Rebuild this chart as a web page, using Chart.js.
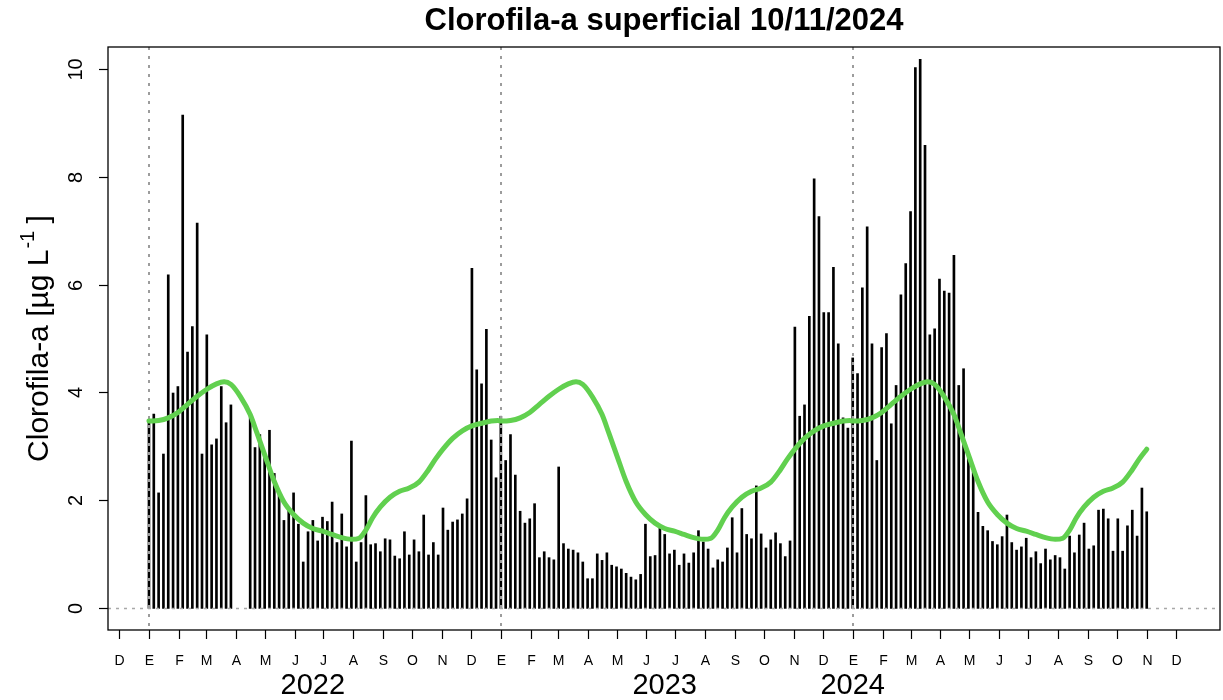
<!DOCTYPE html>
<html>
<head>
<meta charset="utf-8">
<script src="https://cdn.jsdelivr.net/npm/chart.js@4.4.1/dist/chart.umd.min.js"></script>
<style>
  html, body { margin: 0; padding: 0; background: #fff; }
  #wrap { width: 1223px; height: 700px; }
</style>
</head>
<body>
<div id="wrap"><canvas id="c" width="1223" height="700"></canvas></div>
<script>
// Surface chlorophyll-a (µg/L), one value every 5 days from 1 January of each year; null = no data
const chl2022 = [3.49, 3.60, 2.14, 2.86, 6.18, 3.99, 4.11, 9.14, 4.75, 5.22, 7.14, 2.86, 5.07, 3.03, 3.14, 4.11, 3.44, 3.77,
  null, null, null, 3.56, 2.98, 3.22, 2.81, 3.30, 2.50, 2.16, 1.63, 1.82, 2.14, 1.56, 0.86, 1.42, 1.63, 1.25, 1.69, 1.61,
  1.97, 1.22, 1.75, 1.14, 3.10, 0.86, 1.22, 2.09, 1.18, 1.20, 1.05, 1.29, 1.27, 0.97, 0.92, 1.42, 0.99, 1.27, 1.05, 1.73,
  0.99, 1.22, 0.99, 1.86, 1.45, 1.60, 1.64, 1.75, 2.03, 6.30, 4.42, 4.16, 5.17, 3.12, 2.42];
const chl2023 = [3.56, 2.74, 3.22, 2.47, 1.80, 1.58, 1.66, 1.94, 0.94, 1.05, 0.94, 0.90, 2.62, 1.20, 1.10, 1.08, 1.03, 0.86,
  0.55, 0.55, 1.01, 0.89, 1.03, 0.80, 0.77, 0.73, 0.65, 0.58, 0.53, 0.63, 1.56, 0.96, 0.98, 1.51, 1.37, 1.01, 1.08, 0.80,
  1.01, 0.84, 1.03, 1.44, 1.23, 1.10, 0.75, 0.90, 0.86, 1.12, 1.68, 1.03, 1.85, 1.37, 1.29, 2.27, 1.38, 1.12, 1.27, 1.40,
  1.20, 0.96, 1.25, 5.21, 3.56, 3.77, 5.41, 7.96, 7.26, 5.48, 5.48, 6.32, 4.90, 3.53, 3.34];
const chl2024 = [4.64, 4.35, 5.94, 7.07, 4.90, 2.74, 4.83, 5.09, 3.42, 4.13, 5.81, 6.39, 7.35, 10.02, 10.17, 8.58, 5.07, 5.18,
  6.10, 5.88, 5.84, 6.54, 4.13, 4.44, 2.78, 2.54, 1.78, 1.52, 1.44, 1.24, 1.18, 1.33, 1.73, 1.22, 1.08, 1.14, 1.30, 0.94,
  1.05, 0.83, 1.10, 0.90, 0.98, 0.94, 0.73, 1.34, 1.03, 1.36, 1.58, 1.10, 1.16, 1.82, 1.84, 1.66, 1.06, 1.66, 1.06, 1.53,
  1.82, 1.34, 2.23, 1.79];
const seriesYears = [2022, 2023, 2024];
const stepDays = 5;

// Climatological mean (day of year -> µg/L)
const climDay   = [0, 10, 20, 30, 40, 50, 60, 70, 78, 85, 95, 105, 112, 120, 130, 140, 150, 160, 170, 180, 190, 200, 210,
  218, 225, 232, 240, 250, 260, 270, 280, 290, 297, 305, 315, 325, 335, 345, 355, 362];
const climValue = [3.47, 3.48, 3.53, 3.63, 3.78, 3.93, 4.06, 4.16, 4.20, 4.15, 3.92, 3.59, 3.25, 2.85, 2.35, 1.97, 1.74, 1.58,
  1.48, 1.43, 1.37, 1.31, 1.28, 1.30, 1.45, 1.68, 1.88, 2.06, 2.17, 2.23, 2.34, 2.57, 2.76, 2.95, 3.15, 3.29, 3.38, 3.43,
  3.47, 3.48];

// Axis text
const monthLetters = ['E', 'F', 'M', 'A', 'M', 'J', 'J', 'A', 'S', 'O', 'N', 'D'];
const yTickValues = [0, 2, 4, 6, 8, 10];
const yearLabels = ['2022', '2023', '2024'];
const yearLabelDayOfYear = [170, 170, 0];

const DAY = 86400000;
const t0 = Date.UTC(2022, 0, 1);
const dayIndex = (y, m, d) => (Date.UTC(y, m, d) - t0) / DAY;
const yearStart = y => dayIndex(y, 0, 1);

// bars
const chlSeries = [chl2022, chl2023, chl2024];
const barPoints = [];
let lastDay = 0;
chlSeries.forEach((vals, i) => {
  const start = yearStart(seriesYears[i]);
  vals.forEach((v, k) => {
    const x = start + k * stepDays;
    if (v !== null) barPoints.push({ x: x, y: v });
    lastDay = Math.max(lastDay, x);
  });
});

// climatology repeated for every year up to the last observation
const climPoints = [];
seriesYears.forEach(y => {
  const start = yearStart(y);
  climDay.forEach((d, j) => {
    if (start + d <= lastDay) climPoints.push({ x: start + d, y: climValue[j] });
  });
});

// month ticks from December 2021 to December 2024
const monthTicks = [];
for (let y = 2021; y <= 2024; y++) {
  for (let m = 0; m < 12; m++) {
    if (y === 2021 && m < 11) continue;
    monthTicks.push({ x: dayIndex(y, m, 1), label: monthLetters[m] });
  }
}

const FONT = '"Liberation Sans", Arial, Helvetica, sans-serif';

const frame = {
  id: 'frame',
  afterDatasetDraw(chart, args) {
    if (args.index !== 0) return;
    const { ctx, chartArea: a, scales: { x, y } } = chart;
    ctx.save();
    ctx.beginPath();
    ctx.rect(a.left, a.top, a.right - a.left, a.bottom - a.top);
    ctx.clip();
    ctx.strokeStyle = '#9c9c9c';
    ctx.lineWidth = 2;
    ctx.setLineDash([3, 6]);
    seriesYears.forEach(yr => {
      const px = Math.round(x.getPixelForValue(yearStart(yr)));
      ctx.beginPath();
      ctx.moveTo(px, a.top);
      ctx.lineTo(px, a.bottom);
      ctx.stroke();
    });
    ctx.lineWidth = 1.5;
    ctx.strokeStyle = '#a8a8a8';
    ctx.setLineDash([3, 5]);
    const py = Math.round(y.getPixelForValue(0)) + 0.5;
    ctx.beginPath();
    ctx.moveTo(a.left, py);
    ctx.lineTo(a.right, py);
    ctx.stroke();
    ctx.restore();
  },
  afterDraw(chart) {
    const { ctx, chartArea: a, scales: { x, y } } = chart;
    ctx.save();
    ctx.strokeStyle = '#000';
    ctx.fillStyle = '#000';
    ctx.lineWidth = 1.3;
    ctx.strokeRect(a.left, a.top, a.right - a.left, a.bottom - a.top);

    // y axis
    ctx.lineWidth = 1.2;
    ctx.font = '20px ' + FONT;
    ctx.textAlign = 'center';
    ctx.textBaseline = 'middle';
    yTickValues.forEach(v => {
      const py = Math.round(y.getPixelForValue(v)) + 0.5;
      ctx.beginPath();
      ctx.moveTo(a.left, py);
      ctx.lineTo(a.left - 9, py);
      ctx.stroke();
      ctx.save();
      ctx.translate(75, py);
      ctx.rotate(-Math.PI / 2);
      ctx.fillText(String(v), 0, 1);
      ctx.restore();
    });

    // y title with superscript
    ctx.save();
    ctx.translate(37, (a.top + a.bottom) / 2);
    ctx.rotate(-Math.PI / 2);
    const big = '30px ' + FONT, small = '20px ' + FONT;
    const p1 = 'Clorofila-a [µg L', p2 = '-1', p3 = ' ]';
    ctx.font = big; const w1 = ctx.measureText(p1).width, w3 = ctx.measureText(p3).width;
    ctx.font = small; const w2 = ctx.measureText(p2).width;
    let sx = -(w1 + w2 + w3) / 2;
    ctx.textAlign = 'left';
    ctx.textBaseline = 'alphabetic';
    ctx.font = big; ctx.fillText(p1, sx, 11); sx += w1;
    ctx.font = small; ctx.fillText(p2, sx + 1, -3); sx += w2;
    ctx.font = big; ctx.fillText(p3, sx, 11);
    ctx.restore();

    // x axis
    ctx.font = '14px ' + FONT;
    ctx.textAlign = 'center';
    ctx.textBaseline = 'middle';
    monthTicks.forEach(t => {
      const px = Math.round(x.getPixelForValue(t.x)) + 0.5;
      ctx.beginPath();
      ctx.moveTo(px, a.bottom);
      ctx.lineTo(px, a.bottom + 9);
      ctx.stroke();
      ctx.fillText(t.label, px, 661);
    });
    ctx.font = '29px ' + FONT;
    ctx.textBaseline = 'alphabetic';
    yearLabels.forEach((lab, i) => {
      const px = x.getPixelForValue(yearStart(seriesYears[i]) + yearLabelDayOfYear[i]);
      ctx.fillText(lab, px, 694);
    });

    // title
    ctx.font = 'bold 31px ' + FONT;
    ctx.fillText('Clorofila-a superficial 10/11/2024', (a.left + a.right) / 2, 30);
    ctx.restore();
  }
};

new Chart(document.getElementById('c'), {
  type: 'bar',
  data: {
    datasets: [
      {
        type: 'bar',
        data: barPoints,
        backgroundColor: '#000',
        borderWidth: 0,
        barThickness: 2,
        grouped: false,
        order: 1
      },
      {
        type: 'line',
        data: climPoints,
        borderColor: '#61D04F',
        borderWidth: 5,
        pointRadius: 0,
        fill: false,
        cubicInterpolationMode: 'monotone',
        borderCapStyle: 'round',
        borderJoinStyle: 'round',
        order: 0
      }
    ]
  },
  options: {
    responsive: false,
    animation: false,
    events: [],
    layout: { padding: { left: 108, right: 3, top: 47, bottom: 70 } },
    plugins: { legend: { display: false }, tooltip: { enabled: false }, title: { display: false } },
    scales: {
      x: { type: 'linear', min: -42.5, max: 1111, offset: false, display: false },
      y: { type: 'linear', min: -0.4, max: 10.4, display: false }
    }
  },
  plugins: [frame]
});
</script>
</body>
</html>
